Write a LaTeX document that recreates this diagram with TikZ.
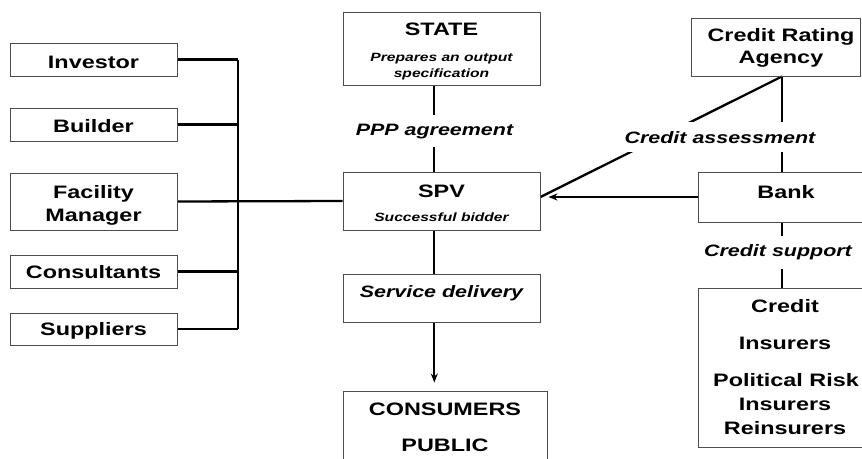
\documentclass[tikz,border=0pt]{standalone}
\usepackage{fontspec}
\setmainfont{Liberation Sans}[FakeStretch=1.3]
\usetikzlibrary{arrows.meta,backgrounds}
\begin{document}
\begin{tikzpicture}[x=1pt,y=-1pt,
 box/.style={draw=black!70, line width=0.9pt, inner sep=0pt},
 ttl/.style={font=\fontsize{18}{20}\selectfont\bfseries, anchor=base, inner sep=0pt},
 sub/.style={font=\fontsize{12}{14}\selectfont\bfseries\itshape, anchor=base, inner sep=0pt},
 lbl/.style={font=\fontsize{16.5}{18}\selectfont\bfseries\itshape, anchor=base, fill=white, inner xsep=2pt, inner ysep=9pt},
 conn/.style={line width=2.3pt},
 arr/.style={conn, -{Stealth[length=9pt,width=7pt]}, shorten >=8pt}]
\useasboundingbox (0,0) rectangle (862,458);
\clip (0,0) rectangle (862,458);
% left boxes
\node[box, minimum width=167pt, minimum height=33pt] (inv) at (93.5,59.5) {};
\node[box, minimum width=167pt, minimum height=33pt] (bld) at (93.5,124.5) {};
\node[box, minimum width=167pt, minimum height=57pt] (fm) at (93.5,201.5) {};
\node[box, minimum width=167pt, minimum height=33pt] (con) at (93.5,271.5) {};
\node[box, minimum width=167pt, minimum height=32pt] (sup) at (93.5,329) {};
\node[ttl] (invT) at (93.5,68.3) {Investor};
\node[ttl] (bldT) at (93.5,132.7) {Builder};
\node[ttl] (fmT1) at (93.5,198) {Facility};
\node[ttl] (fmT2) at (93.5,221.7) {Manager};
\node[ttl] (conT) at (93.5,278) {Consultants};
\node[ttl] (supT) at (93.5,335) {Suppliers};
% centre column
\node[box, minimum width=197pt, minimum height=73pt] (state) at (441.5,48.5) {};
\node[ttl] (stateT) at (441.5,35.7) {STATE};
\node[sub] (stateS1) at (441.5,61.7) {Prepares an output};
\node[sub] (stateS2) at (441.5,77) {specification};
\node[box, minimum width=197pt, minimum height=58pt] (spv) at (441.5,201) {};
\node[ttl] (spvT) at (441.5,197.3) {SPV};
\node[sub] (spvS) at (441.5,221.7) {Successful bidder};
\node[box, minimum width=197pt, minimum height=48pt] (svc) at (441.5,298) {};
\node[lbl, fill=none, inner sep=0pt] (svcT) at (441.5,297.3) {Service delivery};
\node[box, minimum width=204pt, minimum height=79pt] (cons) at (445,430.5) {};
\node[ttl] (consT1) at (445,415) {CONSUMERS};
\node[ttl] (consT2) at (445,451) {PUBLIC};
% right column
\node[box, minimum width=169pt, minimum height=58pt] (cra) at (775.5,47) {};
\node[ttl] (craT1) at (781,41.7) {Credit Rating};
\node[ttl] (craT2) at (781,63.3) {Agency};
\node[box, minimum width=168pt, minimum height=50pt] (bank) at (782,197) {};
\node[ttl] (bankT) at (786,198.3) {Bank};
\node[box, minimum width=168pt, minimum height=159pt] (ins) at (782,367.5) {};
\node[ttl] (insT1) at (785,312.7) {Credit};
\node[ttl] (insT2) at (785,349.3) {Insurers};
\node[ttl] (insT3) at (786,386.7) {Political Risk};
\node[ttl] (insT4) at (785,410) {Insurers};
\node[ttl] (insT5) at (785,434.3) {Reinsurers};
% connector labels
\node[lbl] (ppp) at (434.5,135) {PPP agreement};
\node[lbl] (cas) at (720,143.3) {Credit assessment};
\node[lbl] (csu) at (778,256.7) {Credit support};
\coordinate (bus) at (238,0);
\coordinate (col) at (434.3,0);
\begin{pgfonlayer}{background}
 \draw[conn] (inv.east) -- (inv.east -| bus);
 \draw[conn] (bld.east) -- (bld.east -| bus);
 \draw[conn] (con.east) -- (con.east -| bus);
 \draw[conn] (sup.east) -- (sup.east -| bus);
 \draw[conn] (inv.east -| bus) -- (sup.east -| bus);
 \draw[conn] (fm.east) -- (spv.west);
 \draw[conn] (col |- state.south) -- (col |- spv.north);
 \draw[conn] (col |- spv.south) -- (col |- svc.north);
 \draw[arr] (col |- svc.south) -- (col |- cons.north);
 \draw[conn] (bank.north |- cra.south) -- (bank.north);
 \draw[conn] (bank.north |- cra.south) -- (spv.east |- bank.west);
 \draw[arr] (bank.west) -- (spv.east |- bank.west);
 \draw[conn] (bank.south) -- (ins.north);
\end{pgfonlayer}
\end{tikzpicture}
\end{document}
